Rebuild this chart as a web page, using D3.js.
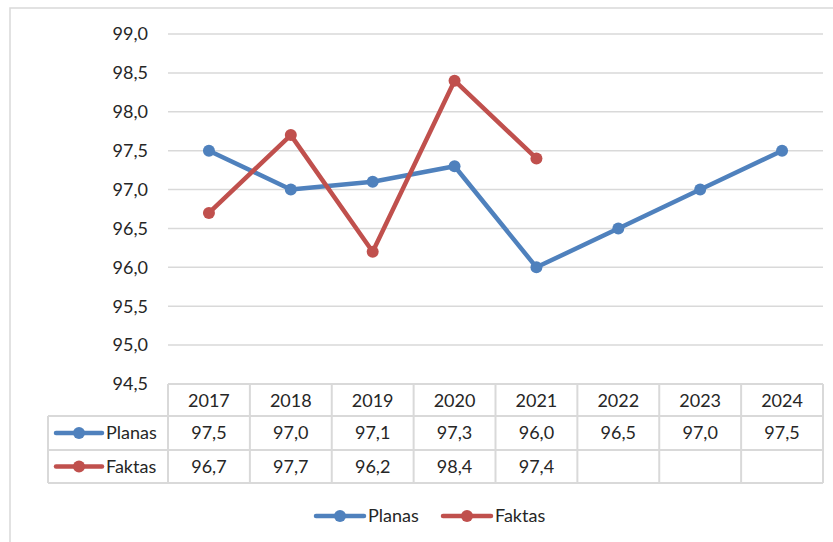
<!DOCTYPE html>
<html>
<head>
<meta charset="utf-8">
<script src="https://cdn.jsdelivr.net/npm/d3@7"></script>
<style>
  body { margin: 0; background: #fff; }
  text { font-family: Lato, "Open Sans", sans-serif; fill: #262626; }
</style>
</head>
<body>
<div id="chart"></div>
<script>
// data
var years = ["2017", "2018", "2019", "2020", "2021", "2022", "2023", "2024"];
var planas = [97.5, 97.0, 97.1, 97.3, 96.0, 96.5, 97.0, 97.5];
var faktas = [96.7, 97.7, 96.2, 98.4, 97.4, null, null, null];
var yTicks = [94.5, 95.0, 95.5, 96.0, 96.5, 97.0, 97.5, 98.0, 98.5, 99.0];

var series = [
  { name: "Planas", values: planas, color: "#4F81BD" },
  { name: "Faktas", values: faktas, color: "#C0504D" }
];

var svgWidth = 833;
var svgHeight = 542;

var plot = { left: 168, right: 823, top: 34, bottom: 384 };
var rowLines = [384, 416, 450, 483];
var tableLeft = 48;

var svg = d3.select("#chart")
  .append("svg")
  .attr("width", svgWidth)
  .attr("height", svgHeight);

// outer chart border (runs past the window on right/bottom)
svg.append("rect")
  .attr("x", 10)
  .attr("y", 8)
  .attr("width", 840)
  .attr("height", 560)
  .attr("fill", "none")
  .attr("stroke", "#D9D9D9")
  .attr("stroke-width", 1.5);

// scales
var x = d3.scaleBand()
  .domain(years)
  .range([plot.left, plot.right]);

var y = d3.scaleLinear()
  .domain([94.5, 99.0])
  .range([plot.bottom, plot.top]);

var fmt = function (v) { return d3.format(".1f")(v).replace(".", ","); };

// gridlines
svg.append("g")
  .selectAll("line")
  .data(yTicks.filter(function (d) { return d > 94.5; }))
  .enter()
  .append("line")
  .attr("x1", plot.left)
  .attr("x2", plot.right)
  .attr("y1", function (d) { return y(d); })
  .attr("y2", function (d) { return y(d); })
  .attr("stroke", "#D9D9D9")
  .attr("stroke-width", 1.5);

// y axis labels
svg.append("g")
  .selectAll("text")
  .data(yTicks)
  .enter()
  .append("text")
  .attr("x", 148)
  .attr("y", function (d) { return y(d); })
  .attr("dy", "0.35em")
  .attr("text-anchor", "end")
  .attr("font-size", 18)
  .text(fmt);

// lines + markers
var line = d3.line()
  .defined(function (d) { return d != null; })
  .x(function (d, i) { return x(years[i]) + x.bandwidth() / 2; })
  .y(function (d) { return y(d); });

series.forEach(function (s) {
  svg.append("path")
    .datum(s.values)
    .attr("d", line)
    .attr("fill", "none")
    .attr("stroke", s.color)
    .attr("stroke-width", 4.5)
    .attr("stroke-linejoin", "round");

  svg.append("g")
    .selectAll("circle")
    .data(s.values.map(function (v, i) { return { v: v, year: years[i] }; })
      .filter(function (d) { return d.v != null; }))
    .enter()
    .append("circle")
    .attr("cx", function (d) { return x(d.year) + x.bandwidth() / 2; })
    .attr("cy", function (d) { return y(d.v); })
    .attr("r", 6)
    .attr("fill", s.color);
});

// data table
var table = svg.append("g");
var gridColor = "#D9D9D9";

// horizontal lines
table.selectAll(".hl")
  .data(rowLines)
  .enter()
  .append("line")
  .attr("x1", function (d, i) { return i === 0 ? plot.left : tableLeft; })
  .attr("x2", plot.right)
  .attr("y1", function (d) { return d; })
  .attr("y2", function (d) { return d; })
  .attr("stroke", gridColor)
  .attr("stroke-width", 2);

// vertical lines
var colEdges = years.map(function (d) { return x(d); }).concat([plot.right]);
table.selectAll(".vl")
  .data(colEdges)
  .enter()
  .append("line")
  .attr("x1", function (d) { return d; })
  .attr("x2", function (d) { return d; })
  .attr("y1", rowLines[0])
  .attr("y2", rowLines[3])
  .attr("stroke", gridColor)
  .attr("stroke-width", 2);

table.append("line")
  .attr("x1", tableLeft).attr("x2", tableLeft)
  .attr("y1", rowLines[1]).attr("y2", rowLines[3])
  .attr("stroke", gridColor)
  .attr("stroke-width", 2);

// year header
table.selectAll(".yr")
  .data(years)
  .enter()
  .append("text")
  .attr("x", function (d) { return x(d) + x.bandwidth() / 2; })
  .attr("y", (rowLines[0] + rowLines[1]) / 2 + 1)
  .attr("dy", "0.35em")
  .attr("text-anchor", "middle")
  .attr("font-size", 18)
  .text(function (d) { return d; });

// series rows
series.forEach(function (s, r) {
  var cy = (rowLines[r + 1] + rowLines[r + 2]) / 2;

  table.append("line")
    .attr("x1", 56).attr("x2", 102)
    .attr("y1", cy).attr("y2", cy)
    .attr("stroke", s.color)
    .attr("stroke-width", 4.5)
    .attr("stroke-linecap", "round");
  table.append("circle")
    .attr("cx", 79).attr("cy", cy).attr("r", 6)
    .attr("fill", s.color);
  table.append("text")
    .attr("x", 106).attr("y", cy)
    .attr("dy", "0.35em")
    .attr("font-size", 18)
    .text(s.name);

  table.selectAll(".v" + r)
    .data(s.values.map(function (v, i) { return { v: v, year: years[i] }; })
      .filter(function (d) { return d.v != null; }))
    .enter()
    .append("text")
    .attr("x", function (d) { return x(d.year) + x.bandwidth() / 2; })
    .attr("y", cy)
    .attr("dy", "0.35em")
    .attr("text-anchor", "middle")
    .attr("font-size", 18)
    .text(function (d) { return fmt(d.v); });
});

// legend
var legend = svg.append("g");
var legendX = [316, 443];
series.forEach(function (s, i) {
  var lx = legendX[i];
  legend.append("line")
    .attr("x1", lx).attr("x2", lx + 48)
    .attr("y1", 516).attr("y2", 516)
    .attr("stroke", s.color)
    .attr("stroke-width", 4.5)
    .attr("stroke-linecap", "round");
  legend.append("circle")
    .attr("cx", lx + 24).attr("cy", 516).attr("r", 6)
    .attr("fill", s.color);
  legend.append("text")
    .attr("x", lx + 52).attr("y", 516)
    .attr("dy", "0.35em")
    .attr("font-size", 18)
    .text(s.name);
});
</script>
</body>
</html>
